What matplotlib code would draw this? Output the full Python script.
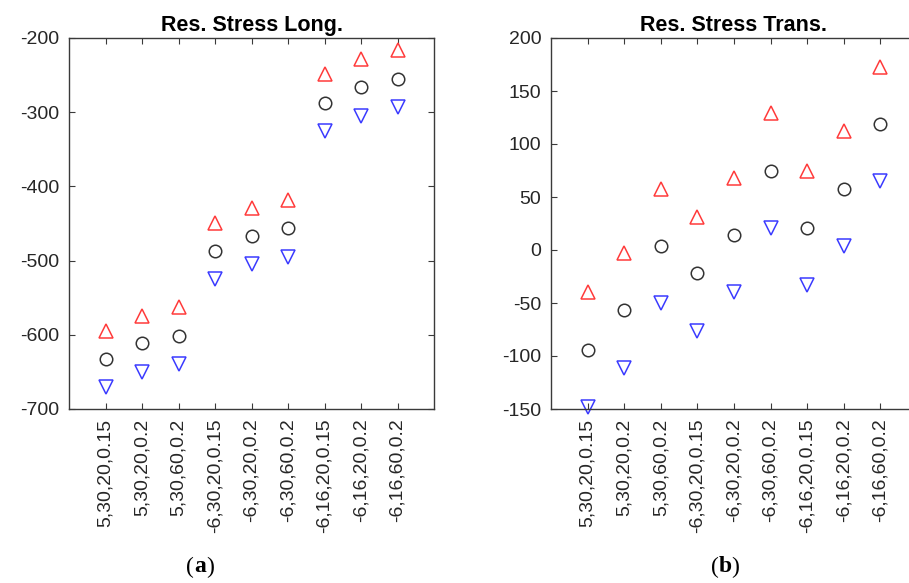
import matplotlib.pyplot as plt
import numpy as np

plt.rcParams['font.family'] = ['Liberation Sans', 'DejaVu Sans']
plt.rcParams['axes.unicode_minus'] = False

categories = ['5,30,20,0.15', '5,30,20,0.2', '5,30,60,0.2',
              '-6,30,20,0.15', '-6,30,20,0.2', '-6,30,60,0.2',
              '-6,16,20,0.15', '-6,16,20,0.2', '-6,16,60,0.2']

long_upper = [-595, -575, -563, -449, -429, -419, -249, -228, -216]
long_mean = [-633, -611, -601, -487, -467, -456, -287, -266, -255]
long_lower = [-670, -650, -640, -525, -505, -495, -325, -305, -293]

trans_upper = [-40, -3, 58, 31, 68, 129, 75, 112, 173]
trans_mean = [-94, -57, 4, -22, 14, 75, 21, 58, 119]
trans_lower = [-148, -111, -50, -76, -40, 21, -33, 4, 65]

x = np.arange(1, len(categories) + 1)
axis_col = '#3a3a3a'

fig = plt.figure(figsize=(9.09, 5.83), dpi=100)
ax1 = fig.add_axes([69 / 909, 1 - 409 / 583, 365 / 909, 371 / 583])
ax2 = fig.add_axes([551 / 909, 1 - 409 / 583, 366 / 909, 371 / 583])


def draw(ax, upper, mean, lower, title, ylim, yticks):
    ax.plot(x, upper, linestyle='none', marker='^', ms=10, mfc='none',
            mec='#ff3b3b', mew=1.1, clip_on=False)
    ax.plot(x, mean, linestyle='none', marker='o', ms=9, mfc='none',
            mec='#333333', mew=1.1, clip_on=False)
    ax.plot(x, lower, linestyle='none', marker='v', ms=10, mfc='none',
            mec='#3b3bff', mew=1.1, clip_on=False)
    ax.set_xlim(0, 10)
    ax.set_ylim(*ylim)
    ax.set_yticks(yticks)
    ax.set_xticks(x)
    ax.set_xticklabels(categories, rotation=90, fontsize=14, color='#262626')
    ax.tick_params(axis='y', labelsize=14, labelcolor='#262626')
    ax.tick_params(direction='in', top=True, right=True, length=4,
                   color=axis_col, width=0.8, pad=7)
    for s in ax.spines.values():
        s.set_color(axis_col)
        s.set_linewidth(1.0)
    ax.set_title(title, fontsize=15.5, fontweight='bold', pad=5)


draw(ax1, long_upper, long_mean, long_lower, 'Res. Stress Long.',
     (-700, -200), np.arange(-700, -199, 100))
draw(ax2, trans_upper, trans_mean, trans_lower, 'Res. Stress Trans.',
     (-150, 200), np.arange(-150, 201, 50))

for cx, letter in [(200, 'a'), (725, 'b')]:
    y = 1 - 567 / 583
    fig.text(cx / 909, y, letter, ha='center', va='center',
             family='Liberation Serif', fontweight='bold', fontsize=17)
    fig.text((cx - 6) / 909, y, '(', ha='right', va='center',
             family='Liberation Serif', fontsize=17)
    fig.text((cx + 6) / 909, y, ')', ha='left', va='center',
             family='Liberation Serif', fontsize=17)

fig.savefig('out.png', dpi=100)
